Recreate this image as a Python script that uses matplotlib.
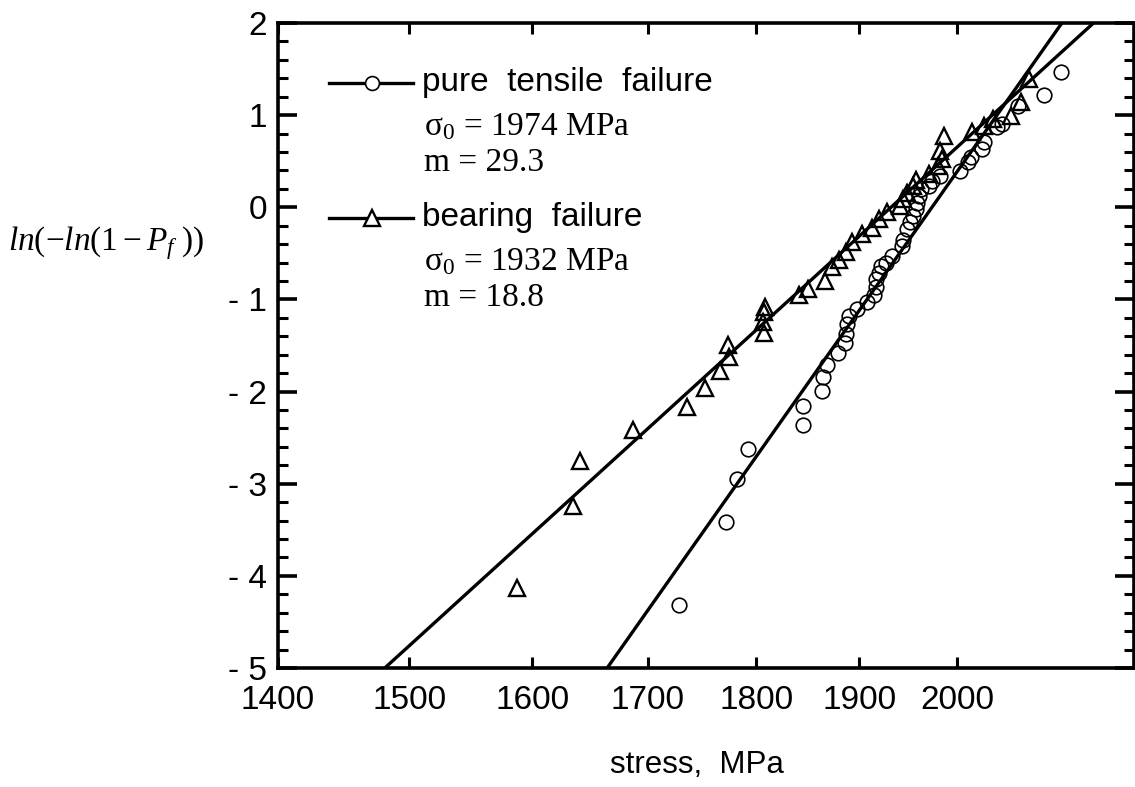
import numpy as np
import matplotlib.pyplot as plt
from matplotlib.ticker import FixedLocator, FixedFormatter, MultipleLocator, NullLocator

plt.rcParams["font.family"] = ["Liberation Sans", "DejaVu Sans"]
plt.rcParams["mathtext.fontset"] = "custom"
plt.rcParams["mathtext.rm"] = "Liberation Serif"
plt.rcParams["mathtext.it"] = "Liberation Serif:italic"

# ----------------
# DATA
# ----------------
tensile_stress = [1728, 1772, 1782, 1792, 1845, 1845, 1863, 1864, 1868, 1879,
                  1886, 1887, 1888, 1890, 1898, 1908, 1915, 1917, 1917, 1920,
                  1922, 1927, 1933, 1943, 1944, 1948, 1951, 1954, 1958, 1959,
                  1961, 1963, 1971, 1974, 1982, 2003, 2012, 2015, 2027, 2029,
                  2043, 2048, 2065, 2094, 2112]
tensile_lnln = [-4.32, -3.42, -2.95, -2.62, -2.36, -2.16, -1.99, -1.84, -1.71, -1.58,
                -1.47, -1.38, -1.27, -1.18, -1.10, -1.03, -0.95, -0.86, -0.78, -0.71,
                -0.64, -0.60, -0.53, -0.42, -0.35, -0.24, -0.16, -0.10, -0.02, 0.05,
                0.12, 0.20, 0.23, 0.28, 0.34, 0.39, 0.49, 0.55, 0.63, 0.71,
                0.87, 0.90, 1.10, 1.22, 1.47]

bearing_stress = [1587, 1635, 1641, 1687, 1736, 1752, 1766, 1774, 1773, 1807,
                  1806, 1807, 1808, 1841, 1850, 1866, 1873, 1880, 1887, 1893,
                  1903, 1913, 1920, 1928, 1941, 1944, 1948, 1954, 1958, 1971,
                  1980, 1984, 1982, 1987, 2016, 2029, 2038, 2058, 2069, 2077]
bearing_lnln = [-4.13, -3.24, -2.75, -2.42, -2.17, -1.96, -1.78, -1.63, -1.49, -1.36,
                -1.25, -1.14, -1.08, -0.95, -0.89, -0.80, -0.65, -0.57, -0.48, -0.38,
                -0.29, -0.22, -0.13, -0.05, 0.01, 0.09, 0.16, 0.23, 0.30, 0.36,
                0.45, 0.52, 0.61, 0.77, 0.82, 0.88, 0.96, 0.99, 1.14, 1.39]

# Weibull fit parameters
tensile_sigma0, tensile_m = 1974, 29.3
bearing_sigma0, bearing_m = 1932, 18.8

x_ticks = [1400, 1500, 1600, 1700, 1800, 1900, 2000]
x_tick_labels = ["1400", "1500", "1600", "1700", "1800", "1900", "2000"]
y_ticks = [-5, -4, -3, -2, -1, 0, 1, 2]
y_tick_labels = ["- 5", "- 4", "- 3", "- 2", "- 1", "0", "1", "2"]

X_MIN, X_MAX = 1400, 2195

# ----------------
# PLOT
# ----------------
fig = plt.figure(figsize=(11.35, 7.87), dpi=100)
ax = fig.add_axes([0.2449, 0.1512, 0.7542, 0.8196])
ax.set_xscale("log")

s = np.array([X_MIN, X_MAX], dtype=float)
ax.plot(s, tensile_m * np.log(s / tensile_sigma0), color="black", lw=2.4)
ax.plot(s, bearing_m * np.log(s / bearing_sigma0), color="black", lw=2.4)

ax.plot(tensile_stress, tensile_lnln, "o", mfc="none", mec="black", ms=10.5, mew=1.2)
ax.plot(bearing_stress, bearing_lnln, "^", mfc="none", mec="black", ms=11, mew=1.7)

ax.set_xlim(X_MIN, X_MAX)
ax.set_ylim(-5, 2)

ax.xaxis.set_major_locator(FixedLocator(x_ticks))
ax.xaxis.set_major_formatter(FixedFormatter(x_tick_labels))
ax.xaxis.set_minor_locator(NullLocator())
ax.yaxis.set_major_locator(FixedLocator(y_ticks))
ax.yaxis.set_major_formatter(FixedFormatter(y_tick_labels))
ax.yaxis.set_minor_locator(MultipleLocator(0.2))

ax.tick_params(axis="x", which="major", direction="in", length=8, width=2.2,
               top=True, labelsize=24, pad=12)
ax.tick_params(axis="y", which="major", direction="in", length=14, width=2.6,
               right=True, labelsize=24, pad=8)
ax.tick_params(axis="y", which="minor", direction="in", length=7, width=2.2,
               right=True)
for sp in ax.spines.values():
    sp.set_linewidth(2.6)

# legend block
for yl, mk, mew, ms, name, s0, m in [
        (0.907, "o", 1.2, 10, "pure  tensile  failure", tensile_sigma0, tensile_m),
        (0.698, "^", 1.7, 11, "bearing  failure", bearing_sigma0, bearing_m)]:
    ax.plot([0.0596, 0.1577], [yl, yl], color="black", lw=2.4,
            transform=ax.transAxes, clip_on=False)
    ax.plot([0.1098], [yl], mk, mfc="white", mec="black", ms=ms, mew=mew,
            transform=ax.transAxes, clip_on=False)
    ax.text(0.168, yl, name, transform=ax.transAxes, fontsize=24,
            ha="left", va="center")
    ax.text(0.171, yl - 0.068, "σ$_0$ = %d MPa" % s0, transform=ax.transAxes,
            fontsize=24, family="Liberation Serif", ha="left", va="center")
    ax.text(0.171, yl - 0.124, "m = %.1f" % m, transform=ax.transAxes,
            fontsize=24, family="Liberation Serif", ha="left", va="center")

fig.text(0.007, 0.691, r"$ln(-ln(1-P_f\ ))$", fontsize=24, ha="left", va="center")
fig.text(0.614, 0.028, "stress,  MPa", fontsize=22.5, ha="center", va="center")

plt.savefig("out.png", dpi=100)
